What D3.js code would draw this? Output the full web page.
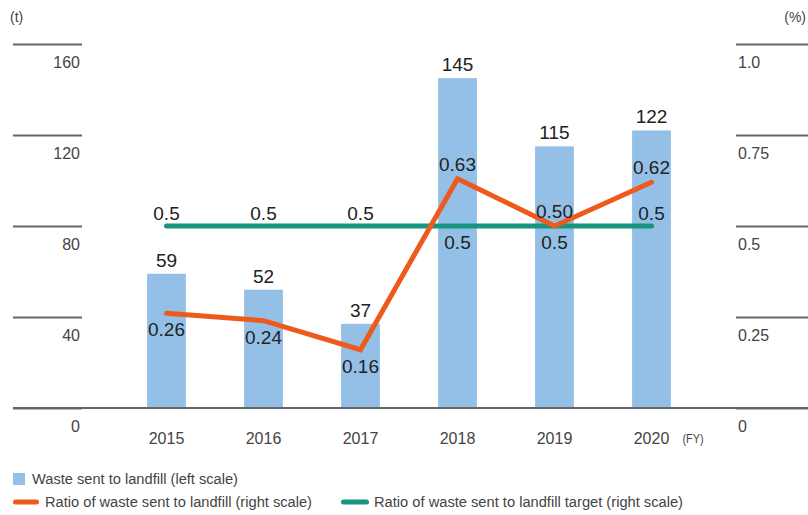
<!DOCTYPE html>
<html>
<head>
<meta charset="utf-8">
<script src="https://cdn.jsdelivr.net/npm/d3@7"></script>
<style>
  html, body { margin: 0; padding: 0; background: #fff; }
  svg { display: block; }
</style>
</head>
<body>
<svg id="chart" width="808" height="515"></svg>
<script>
// ---- data ----
const years = ["2015", "2016", "2017", "2018", "2019", "2020"];
const waste = [59, 52, 37, 145, 115, 122];
const ratio = [0.26, 0.24, 0.16, 0.63, 0.50, 0.62];
const ratioLabels = ["0.26", "0.24", "0.16", "0.63", "0.50", "0.62"];
const ratioLabelSide = ["below", "below", "below", "above", "above", "above"];
const target = [0.5, 0.5, 0.5, 0.5, 0.5, 0.5];
const targetLabels = ["0.5", "0.5", "0.5", "0.5", "0.5", "0.5"];
const targetLabelSide = ["above", "above", "above", "below", "below", "above"];
const leftTicks = [0, 40, 80, 120, 160];
const rightTicks = [0, 0.25, 0.5, 0.75, 1.0];
const rightTickLabels = ["0", "0.25", "0.5", "0.75", "1.0"];
const legendItems = [
  "Waste sent to landfill (left scale)",
  "Ratio of waste sent to landfill (right scale)",
  "Ratio of waste sent to landfill target (right scale)"
];

// ---- style ----
const barColor = "#94c0e7";
const orange = "#ee5a1c";
const green = "#17957e";
const axisGray = "#666";
const labelGray = "#444";
const valueColor = "#222";
const numFont = "'Liberation Sans', Arial, Helvetica, sans-serif";
const narrowFont = "'Liberation Sans Narrow', 'Liberation Sans', Arial, sans-serif";

const svg = d3.select("#chart");

// ---- scales ----
const x = d3.scaleBand().domain(years).range([118, 700]).paddingInner(0.6).paddingOuter(0.3);
const yL = d3.scaleLinear().domain([0, 160]).range([408, 44]);
const yR = d3.scaleLinear().domain([0, 1.0]).range([408, 44]);
const cx = d => x(d) + x.bandwidth() / 2;

// ---- bars ----
svg.append("g").selectAll("rect").data(years).join("rect")
  .attr("x", d => x(d))
  .attr("width", x.bandwidth())
  .attr("y", (d, i) => yL(waste[i]))
  .attr("height", (d, i) => yL(0) - yL(waste[i]))
  .attr("fill", barColor);

// ---- left axis ----
const gL = svg.append("g").attr("transform", "translate(82,0)")
  .call(d3.axisLeft(yL).tickValues(leftTicks).tickSize(69).tickFormat(d3.format("d")));
gL.select(".domain").remove();
gL.selectAll(".tick line").attr("stroke", axisGray).attr("stroke-width", 2);
gL.selectAll(".tick text")
  .attr("x", -2).attr("y", 23).attr("dy", null)
  .attr("text-anchor", "end")
  .attr("fill", labelGray)
  .style("font-family", numFont).style("font-size", "16px");

// ---- right axis ----
const gR = svg.append("g").attr("transform", "translate(736,0)")
  .call(d3.axisRight(yR).tickValues(rightTicks).tickSize(72)
    .tickFormat((d, i) => rightTickLabels[i]));
gR.select(".domain").remove();
gR.selectAll(".tick line").attr("stroke", axisGray).attr("stroke-width", 2);
gR.selectAll(".tick text")
  .attr("x", 2).attr("y", 23).attr("dy", null)
  .attr("text-anchor", "start")
  .attr("fill", labelGray)
  .style("font-family", numFont).style("font-size", "16px");

// ---- baseline ----
svg.append("line")
  .attr("x1", 13).attr("x2", 808)
  .attr("y1", yL(0)).attr("y2", yL(0))
  .attr("stroke", axisGray).attr("stroke-width", 2);

// ---- x axis labels ----
const gX = svg.append("g").attr("transform", `translate(0,${yL(0)})`)
  .call(d3.axisBottom(x).tickSize(0));
gX.select(".domain").remove();
gX.selectAll(".tick text")
  .attr("y", 36).attr("dy", null)
  .attr("fill", labelGray)
  .style("font-family", numFont).style("font-size", "16px");

svg.append("text")
  .attr("x", cx(years[years.length - 1]) + 31)
  .attr("y", yL(0) + 35)
  .attr("fill", labelGray)
  .style("font-family", narrowFont).style("font-size", "12px")
  .attr("textLength", 21).attr("lengthAdjust", "spacingAndGlyphs")
  .text("(FY)");

// ---- unit labels ----
svg.append("text").attr("x", 10).attr("y", 22)
  .attr("fill", labelGray)
  .style("font-family", narrowFont).style("font-size", "14px").text("(t)");
svg.append("text").attr("x", 806).attr("y", 22).attr("text-anchor", "end")
  .attr("fill", labelGray)
  .style("font-family", narrowFont).style("font-size", "14px").text("(%)");

// ---- target line ----
const line = d3.line().x((d, i) => cx(years[i])).y(d => yR(d));
svg.append("path").datum(target)
  .attr("d", line)
  .attr("fill", "none").attr("stroke", green).attr("stroke-width", 5)
  .attr("stroke-linecap", "round");

// ---- ratio line ----
svg.append("path").datum(ratio)
  .attr("d", line)
  .attr("fill", "none").attr("stroke", orange).attr("stroke-width", 5)
  .attr("stroke-linecap", "round").attr("stroke-linejoin", "miter");

// ---- value labels ----
const valStyle = sel => sel.attr("text-anchor", "middle").attr("fill", valueColor)
  .style("font-family", numFont).style("font-size", "19px");

svg.append("g").selectAll("text").data(years).join("text")
  .attr("x", d => cx(d))
  .attr("y", (d, i) => yL(waste[i]) - 7)
  .call(valStyle)
  .text((d, i) => waste[i]);

svg.append("g").selectAll("text").data(years).join("text")
  .attr("x", d => cx(d))
  .attr("y", (d, i) => yR(ratio[i]) + (ratioLabelSide[i] === "above" ? -8 : 23))
  .call(valStyle)
  .text((d, i) => ratioLabels[i]);

svg.append("g").selectAll("text").data(years).join("text")
  .attr("x", d => cx(d))
  .attr("y", (d, i) => yR(target[i]) + (targetLabelSide[i] === "above" ? -6 : 23))
  .call(valStyle)
  .text((d, i) => targetLabels[i]);

// ---- legend ----
const legendText = sel => sel.attr("fill", labelGray)
  .style("font-family", narrowFont).style("font-size", "14px");

svg.append("rect").attr("x", 13).attr("y", 473).attr("width", 12).attr("height", 12)
  .attr("fill", barColor);
svg.append("text").attr("x", 32).attr("y", 484).call(legendText)
  .attr("textLength", 206).attr("lengthAdjust", "spacingAndGlyphs")
  .text(legendItems[0]);

svg.append("line").attr("x1", 15.5).attr("x2", 36.5).attr("y1", 502).attr("y2", 502)
  .attr("stroke", orange).attr("stroke-width", 5).attr("stroke-linecap", "round");
svg.append("text").attr("x", 45).attr("y", 507).call(legendText)
  .attr("textLength", 267).attr("lengthAdjust", "spacingAndGlyphs")
  .text(legendItems[1]);

svg.append("line").attr("x1", 343.5).attr("x2", 366.5).attr("y1", 502).attr("y2", 502)
  .attr("stroke", green).attr("stroke-width", 5).attr("stroke-linecap", "round");
svg.append("text").attr("x", 374).attr("y", 507).call(legendText)
  .attr("textLength", 309).attr("lengthAdjust", "spacingAndGlyphs")
  .text(legendItems[2]);
</script>
</body>
</html>
